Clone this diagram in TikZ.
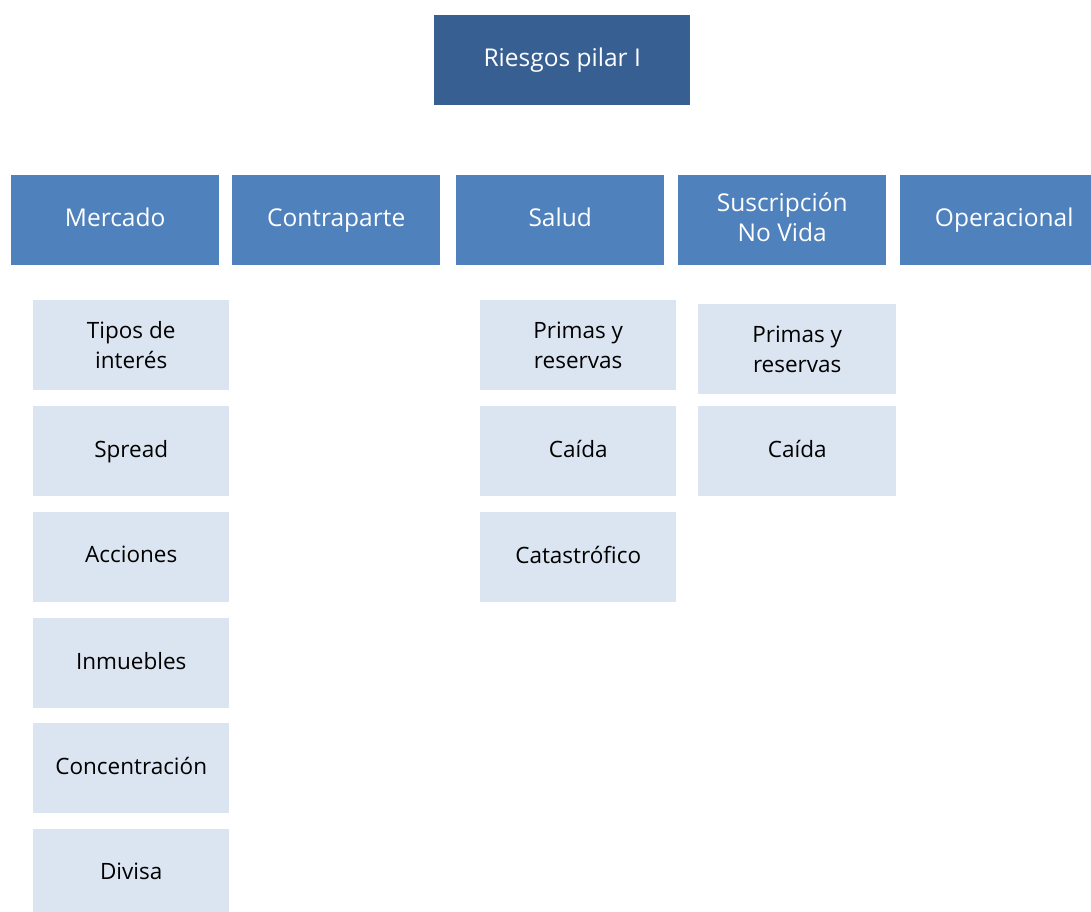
\documentclass[tikz,border=0pt]{standalone}
\usepackage{fontspec}
\setmainfont{Open Sans}
\definecolor{topblue}{HTML}{375F92}
\definecolor{headblue}{HTML}{4F81BD}
\definecolor{sublight}{HTML}{DBE5F1}
\begin{document}
\begin{tikzpicture}[x=1pt,y=-1pt,
  topbox/.style={fill=topblue,text=white,font=\fontsize{24.5}{31}\selectfont,anchor=north west,minimum width=256pt,minimum height=90pt,inner sep=0pt,align=center},
  headbox/.style={fill=headblue,text=white,font=\fontsize{24.5}{31}\selectfont,anchor=north west,minimum width=208pt,minimum height=90pt,inner sep=0pt,align=center},
  subbox/.style={fill=sublight,text=black,font=\fontsize{22.5}{30}\selectfont,anchor=north west,minimum width=196pt,minimum height=90pt,inner sep=0pt,align=center}]
\useasboundingbox (0,0) rectangle (1091,911);
\node[topbox] (top) at (434,15) {Riesgos pilar I};
\node[headbox] (mer) at (11,175) {Mercado\vphantom{p}};
\node[headbox] (con) at (232,175) {Contraparte};
\node[headbox] (sal) at (456,175) {Salud\vphantom{p}};
\node[headbox] (sus) at (678,175) {\raisebox{3pt}{\begin{tabular}{@{}c@{}}Suscripción\\[-1pt]No Vida\end{tabular}}};
\node[headbox] (ope) at (900,175) {Operacional};
\node[subbox] (m1) at (33,300) {Tipos de\\interés};
\node[subbox] (m2) at (33,406) {Spread};
\node[subbox] (m3) at (33,512) {Acciones\vphantom{p}};
\node[subbox] (m4) at (33,618) {Inmuebles\vphantom{p}};
\node[subbox] (m5) at (33,723) {Concentración\vphantom{p}};
\node[subbox] (m6) at (33,829) {Divisa\vphantom{p}};
\node[subbox] (s1) at (480,300) {Primas y\\reservas};
\node[subbox] (s2) at (480,406) {Caída\vphantom{p}};
\node[subbox] (s3) at (480,512) {Catastrófico\vphantom{p}};
\node[subbox,minimum width=198pt] (n1) at (698,304) {Primas y\\reservas};
\node[subbox,minimum width=198pt] (n2) at (698,406) {Caída\vphantom{p}};
\end{tikzpicture}
\end{document}
